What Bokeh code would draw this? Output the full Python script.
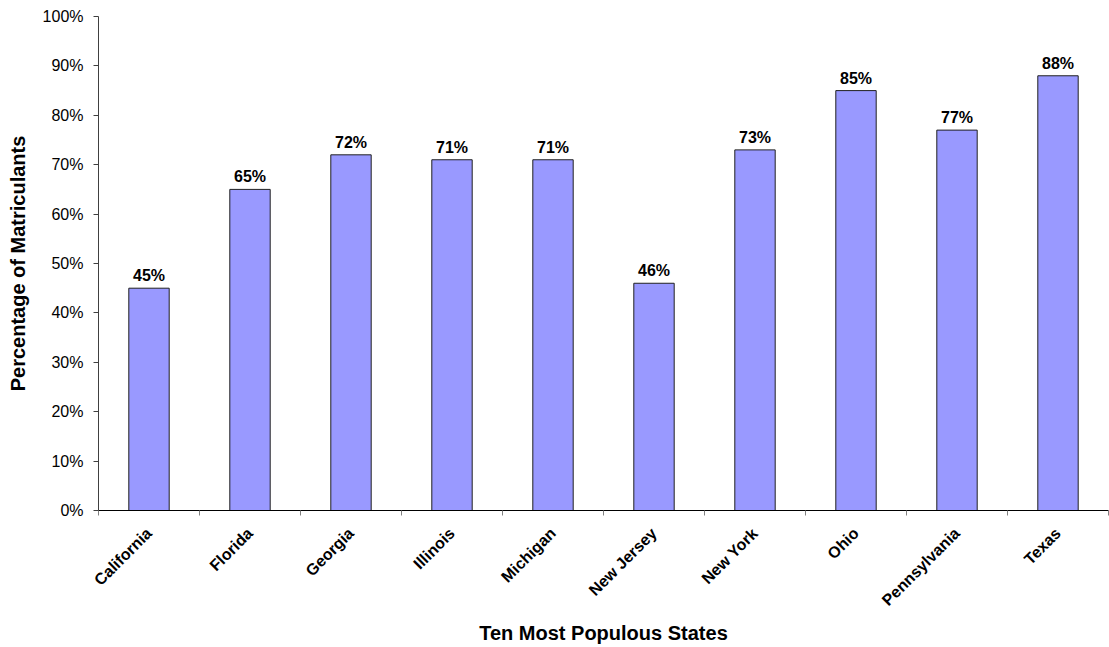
from bokeh.plotting import figure
from bokeh.models import Range1d, FixedTicker, ColumnDataSource, LinearAxis
from bokeh.core.properties import value
from bokeh.embed import file_html
from bokeh.resources import INLINE
import math

# Share of matriculants by state
states = ["California", "Florida", "Georgia", "Illinois", "Michigan",
          "New Jersey", "New York", "Ohio", "Pennsylvania", "Texas"]
percentages = [45, 65, 72, 71, 71, 46, 73, 85, 77, 88]
y_ticks = [0, 10, 20, 30, 40, 50, 60, 70, 80, 90, 100]

FONT = "Liberation Sans"

x_pos = [i + 0.5 for i in range(len(states))]
src = ColumnDataSource(dict(
    x=x_pos,
    top=percentages,
    label=[f"{v}%" for v in percentages],
))

p = figure(width=1109, height=647, output_backend="svg", toolbar_location=None,
           x_range=Range1d(0, len(states)), y_range=Range1d(0, 100),
           min_border_left=98, min_border_right=1, min_border_top=16,
           min_border_bottom=137, x_axis_type=None, y_axis_type=None)
p.outline_line_color = None
p.background_fill_color = "white"
p.border_fill_color = "white"

# y axis with percent labels
yax = LinearAxis(ticker=FixedTicker(ticks=y_ticks),
                 major_label_overrides={t: f"{t}%" for t in y_ticks})
yax.axis_label = "Percentage of Matriculants"
yax.axis_label_text_font = FONT
yax.axis_label_text_font_style = "bold"
yax.axis_label_text_font_size = "20px"
yax.axis_label_text_color = "black"
yax.axis_label_standoff = 11
yax.major_label_text_font = FONT
yax.major_label_text_font_size = "16px"
yax.major_label_text_color = "black"
yax.axis_line_color = "#404040"
yax.major_tick_line_color = "#404040"
yax.major_tick_out = 5
yax.major_tick_in = 0
yax.minor_tick_line_color = None
yax.major_label_standoff = 10
p.add_layout(yax, "left")

# x axis: names at category centres, tick marks at category boundaries
xax = LinearAxis(ticker=FixedTicker(ticks=x_pos,
                                    minor_ticks=list(range(len(states) + 1))),
                 major_label_overrides={x: s for x, s in zip(x_pos, states)})
xax.axis_label = "Ten Most Populous States"
xax.axis_label_text_font = FONT
xax.axis_label_text_font_style = "bold"
xax.axis_label_text_font_size = "20px"
xax.axis_label_text_color = "black"
xax.axis_label_standoff = 4
xax.major_label_text_font = FONT
xax.major_label_text_font_style = "bold"
xax.major_label_text_font_size = "16px"
xax.major_label_text_color = "black"
xax.major_label_orientation = math.pi / 4
xax.major_label_standoff = 14
xax.major_tick_line_color = None
xax.minor_tick_line_color = "#808080"
xax.minor_tick_out = 5
xax.minor_tick_in = 0
xax.axis_line_color = "black"
p.add_layout(xax, "below")

p.ygrid.grid_line_color = "black"
p.ygrid.grid_line_width = 1
p.ygrid.ticker = FixedTicker(ticks=y_ticks)
p.xgrid.grid_line_color = None

p.vbar(x="x", top="top", width=0.4, bottom=0, source=src,
       fill_color="#9999FF", line_color="#202020", line_width=1)

p.text(x="x", y="top", text="label", source=src, y_offset=-4,
       text_align="center", text_baseline="bottom",
       text_font=value(FONT), text_font_style="bold",
       text_font_size="16px", text_color="black")

open("out.html", "w").write(file_html(p, INLINE))
